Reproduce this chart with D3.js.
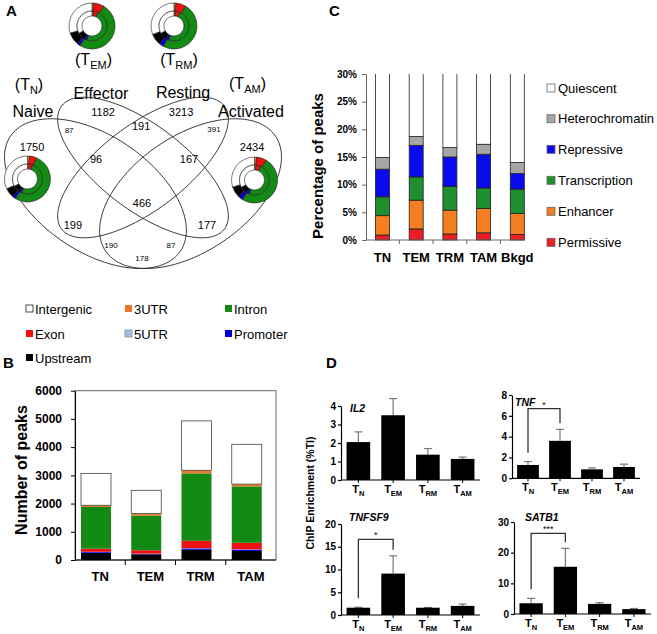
<!DOCTYPE html>
<html>
<head>
<meta charset="utf-8">
<script src="https://cdn.jsdelivr.net/npm/d3@7"></script>
<style>
  body { margin: 0; background: #fff; }
  text { font-family: Arial, "Liberation Sans", sans-serif; }
</style>
</head>
<body>
<div id="viz-container"></div>
<script>
// ---------- data ----------
// A: venn counts (region order matches vennSpots below)
let vennNames = ["Naive", "Effector", "Resting", "Activated"];
let vennTags = [["N"], ["EM"], ["RM"], ["AM"]];
let vennCounts = [1750, 1182, 3213, 2434, 87, 191, 391, 96, 167, 466, 199, 177, 190, 87, 178];

// A: donut rings, clockwise from 12 o'clock
let ringKeys = ["3UTR", "Exon", "Intron", "5UTR", "Promoter", "Upstream", "Intergenic"];
let tnOuter  = [1.5, 5, 52, 0.5, 2, 7, 32];
let tnInner  = [1.5, 4, 51, 0.5, 2, 8, 33];
let temOuter = [1.5, 7, 50, 0.5, 2, 9, 30];
let temInner = [1.5, 5, 49, 0.5, 2, 9, 33];
let trmOuter = [1.5, 7, 49, 0.5, 3, 8, 31];
let trmInner = [1.5, 5, 49, 0.5, 3, 8, 33];
let tamOuter = [1.5, 7, 50, 0.5, 3, 8, 30];
let tamInner = [1.5, 5, 49, 0.5, 3, 8, 33];

// B: peak annotation counts
let peakCells = ["TN", "TEM", "TRM", "TAM"];
let upstream   = [250, 200, 360, 320];
let promoter   = [30, 20, 50, 50];
let utr5       = [10, 5, 10, 10];
let exon       = [110, 120, 260, 230];
let intron     = [1480, 1230, 2390, 2000];
let utr3       = [60, 70, 110, 80];
let intergenic = [1130, 825, 1750, 1410];
let peakTicks = [0, 1000, 2000, 3000, 4000, 5000, 6000];

// C: chromatin states (% of peaks)
let stateCells = ["TN", "TEM", "TRM", "TAM", "Bkgd"];
let permissive      = [0.9, 2.0, 1.1, 1.3, 1.0];
let enhancer        = [3.5, 5.2, 4.3, 4.4, 3.8];
let transcription   = [3.4, 4.2, 4.3, 3.7, 4.4];
let repressive      = [5.0, 5.7, 5.3, 6.1, 2.8];
let heterochromatin = [2.1, 1.6, 1.7, 1.8, 2.0];
let quiescent       = [85.1, 81.3, 83.3, 82.7, 86.0];
let stateTicks = [0, 5, 10, 15, 20, 25, 30];

// D: ChIP enrichment
let genes = ["IL2", "TNF", "TNFSF9", "SATB1"];
let tSubs = ["N", "EM", "RM", "AM"];
let il2Mean = [2.05, 3.5, 1.37, 1.14],  il2Sem = [0.55, 0.9, 0.33, 0.1];
let tnfMean = [1.28, 3.6, 0.86, 1.09],  tnfSem = [0.32, 1.1, 0.14, 0.27];
let tnfsf9Mean = [1.6, 9.1, 1.6, 2.0],  tnfsf9Sem = [0.1, 3.9, 0.05, 0.4];
let satb1Mean = [3.5, 15.4, 3.3, 1.6],  satb1Sem = [1.6, 6.0, 0.4, 0.2];
let dMax = [4, 8, 20, 30];
let dStep = [1, 2, 5, 10];
let sigLevel = [null, 6.7, 16.6, 26.3];
let sigText = ["", "*", "*", "***"];

// ---------- colours ----------
let annColor = {"Upstream": "#000000", "Promoter": "#0000dd", "5UTR": "#a4bfe0", "Exon": "#ee1111",
  "Intron": "#138a13", "3UTR": "#e8772a", "Intergenic": "#ffffff"};
let stateKeys = ["Permissive", "Enhancer", "Transcription", "Repressive", "Heterochromatin", "Quiescent"];
let stateColor = ["#ee1c24", "#f57f20", "#1f8f2f", "#0a0aee", "#a6a6a6", "#ffffff"];
let fontFam = "Arial, 'Liberation Sans', sans-serif";

let viz = d3.select("#viz-container")
  .append("svg")
    .attr("width", 657)
    .attr("height", 634)
    .style("background", "#fff")
;

function panelLetter(t, x, y) {
  viz.append("text").attr("x", x).attr("y", y).attr("font-size", 15).attr("font-weight", "bold").text(t);
}
panelLetter("A", 6, 16);
panelLetter("B", 3, 368);
panelLetter("C", 329, 16);
panelLetter("D", 326, 368);

// ================= A =================
// venn drawn in a unit square, mapped to pixels
let sx = d3.scaleLinear().domain([0, 1]).range([-15.5, 301.5]);
let sy = d3.scaleLinear().domain([0, 1]).range([316.3, 55.3]);
let vennEllipses = [
  {cx: 0.35, cy: 0.47, a: 0.35, b: 0.205, rot: 135},
  {cx: 0.50, cy: 0.57, a: 0.35, b: 0.15, rot: 135},
  {cx: 0.50, cy: 0.57, a: 0.35, b: 0.15, rot: 45},
  {cx: 0.65, cy: 0.47, a: 0.35, b: 0.205, rot: 45}
];
let ellLine = d3.line().x(d => sx(d[0])).y(d => sy(d[1])).curve(d3.curveLinearClosed);
vennEllipses.forEach(e => {
  let th = e.rot * Math.PI / 180;
  let pts = d3.range(0, 2 * Math.PI, Math.PI / 90).map(t => [
    e.cx + e.a * Math.cos(t) * Math.cos(th) - e.b * Math.sin(t) * Math.sin(th),
    e.cy + e.a * Math.cos(t) * Math.sin(th) + e.b * Math.sin(t) * Math.cos(th)
  ]);
  viz.append("path").attr("d", ellLine(pts)).attr("fill", "none").attr("stroke", "#222").attr("stroke-width", 0.9);
});

let vennSpots = [[0.150, 0.649], [0.374, 0.783], [0.620, 0.783], [0.844, 0.649], [0.267, 0.710],
  [0.494, 0.729], [0.724, 0.714], [0.352, 0.603], [0.645, 0.603], [0.497, 0.434], [0.279, 0.350],
  [0.702, 0.350], [0.399, 0.273], [0.588, 0.273], [0.497, 0.223]];
let smallSpot = [false, false, false, false, true, false, true, false, false, false, false, false, true, true, true];
viz.selectAll(".vcount").data(vennCounts).enter().append("text")
  .attr("x", (d, i) => sx(vennSpots[i][0]))
  .attr("y", (d, i) => sy(vennSpots[i][1]))
  .attr("text-anchor", "middle").attr("dominant-baseline", "central")
  .attr("font-size", (d, i) => smallSpot[i] ? 8 : 11)
  .text(d => d);

// set names and cell tags
let nameSpots = [[33, 117], [101, 99], [183, 98], [251, 117]];
let tagSpots = [[29, 90], [93.5, 65], [179, 65], [247.5, 89]];
vennNames.forEach((n, i) => {
  viz.append("text").attr("x", nameSpots[i][0]).attr("y", nameSpots[i][1])
    .attr("text-anchor", "middle").attr("font-size", 16).text(n);
  let t = viz.append("text").attr("x", tagSpots[i][0]).attr("y", tagSpots[i][1])
    .attr("text-anchor", "middle").attr("font-size", 16);
  t.append("tspan").text("(T");
  t.append("tspan").attr("font-size", 11).attr("dy", 4).text(vennTags[i][0]);
  t.append("tspan").attr("dy", -4).text(")");
});

// donuts
let pie = d3.pie().sort(null).value(d => d);
let outerArc = d3.arc().innerRadius(15).outerRadius(23);
let innerArc = d3.arc().innerRadius(10).outerRadius(15);
let donutSpots = [[27.5, 179], [92, 26], [174, 26], [254.5, 180]];
let rings = [[tnOuter, tnInner], [temOuter, temInner], [trmOuter, trmInner], [tamOuter, tamInner]];
rings.forEach((r, i) => {
  let g = viz.append("g").attr("transform", `translate(${donutSpots[i][0]},${donutSpots[i][1]})`);
  g.append("circle").attr("r", 23).attr("fill", "#fff");
  g.selectAll(".o").data(pie(r[0])).enter().append("path")
    .attr("d", outerArc).attr("fill", (d, j) => annColor[ringKeys[j]]).attr("stroke", "#222").attr("stroke-width", 0.6);
  g.selectAll(".n").data(pie(r[1])).enter().append("path")
    .attr("d", innerArc).attr("fill", (d, j) => annColor[ringKeys[j]]).attr("stroke", "#222").attr("stroke-width", 0.6);
});

// annotation legend
let legKeys = ["Intergenic", "3UTR", "Intron", "Exon", "5UTR", "Promoter", "Upstream"];
let legX = [26, 125, 225];
let legY = [309, 334, 358];
legKeys.forEach((k, i) => {
  let x = legX[i % 3], y = legY[Math.floor(i / 3)];
  viz.append("rect").attr("x", x).attr("y", y - 4).attr("width", 7).attr("height", 7)
    .attr("fill", annColor[k]).attr("stroke", k === "Intergenic" ? "#222" : (k === "5UTR" ? "#7a8fae" : "none")).attr("stroke-width", 0.8);
  viz.append("text").attr("x", x + 9).attr("y", y).attr("dominant-baseline", "central")
    .attr("font-size", 13).text(k);
});

// ================= B =================
let peakRows = peakCells.map((c, i) => ({cell: c, Upstream: upstream[i], Promoter: promoter[i], "5UTR": utr5[i],
  Exon: exon[i], Intron: intron[i], "3UTR": utr3[i], Intergenic: intergenic[i]}));
let peakKeys = ["Upstream", "Promoter", "5UTR", "Exon", "Intron", "3UTR", "Intergenic"];
let peakStack = d3.stack().keys(peakKeys)(peakRows);
let xB = d3.scaleBand().domain(peakCells).range([75, 276]);
let yB = d3.scaleLinear().domain([0, 6000]).range([560, 390.7]);

viz.append("rect").attr("x", 75).attr("y", yB(6000)).attr("width", 201).attr("height", yB(0) - yB(6000))
  .attr("fill", "none").attr("stroke", "#666").attr("stroke-width", 1);
peakStack.forEach(s => {
  viz.selectAll(null).data(s).enter().append("rect")
    .attr("x", d => xB(d.data.cell) + 6)
    .attr("width", 30)
    .attr("y", d => yB(d[1]))
    .attr("height", d => yB(d[0]) - yB(d[1]))
    .attr("fill", annColor[s.key])
    .attr("stroke", s.key === "Intergenic" ? "#444" : "none").attr("stroke-width", 0.8);
});
let axB = viz.append("g").attr("transform", "translate(75,0)")
  .call(d3.axisLeft(yB).tickValues(peakTicks).tickSize(4).tickSizeOuter(0).tickPadding(9).tickFormat(d3.format("d")));
axB.selectAll("text").attr("font-size", 12).attr("font-weight", "bold").attr("font-family", fontFam);
axB.select(".domain").attr("stroke", "#000");
viz.append("line").attr("x1", 75).attr("x2", 276).attr("y1", 560).attr("y2", 560).attr("stroke", "#000");
peakCells.forEach((c, i) => {
  if (i > 0) viz.append("line").attr("x1", xB(c)).attr("x2", xB(c)).attr("y1", 560).attr("y2", 565).attr("stroke", "#000");
  viz.append("text").attr("x", xB(c) + xB.bandwidth() / 2).attr("y", 581)
    .attr("text-anchor", "middle").attr("font-size", 13).attr("font-weight", "bold").text(c);
});
viz.append("text").attr("transform", "translate(27,470) rotate(-90)")
  .attr("text-anchor", "middle").attr("font-size", 16).attr("font-weight", "bold").text("Number of peaks");

// ================= C =================
let stateRows = stateCells.map((c, i) => ({cell: c, Permissive: permissive[i], Enhancer: enhancer[i],
  Transcription: transcription[i], Repressive: repressive[i], Heterochromatin: heterochromatin[i], Quiescent: quiescent[i]}));
let stateStack = d3.stack().keys(stateKeys)(stateRows);
let xC = d3.scalePoint().domain(stateCells).range([382.5, 517.3]);
let yC = d3.scaleLinear().domain([0, 30]).range([240, 74]);

viz.append("clipPath").attr("id", "clipC").append("rect")
  .attr("x", 360).attr("y", yC(30)).attr("width", 180).attr("height", yC(0) - yC(30) + 2);
let barsC = viz.append("g").attr("clip-path", "url(#clipC)");
stateStack.forEach((s, k) => {
  barsC.selectAll(null).data(s).enter().append("rect")
    .attr("x", d => xC(d.data.cell) - 7)
    .attr("width", 14)
    .attr("y", d => yC(d[1]))
    .attr("height", d => yC(d[0]) - yC(d[1]))
    .attr("fill", stateColor[k])
    .attr("stroke", "#222").attr("stroke-width", 0.8);
});
let axC = viz.append("g").attr("transform", "translate(366,0)")
  .call(d3.axisLeft(yC).tickValues(stateTicks).tickSize(4).tickSizeOuter(0).tickPadding(5).tickFormat(d => d + "%"));
axC.selectAll("text").attr("font-size", 10).attr("font-weight", "bold").attr("font-family", fontFam);
axC.selectAll("line, .domain").attr("stroke", "#666");
viz.append("line").attr("x1", 366).attr("x2", 525).attr("y1", 240).attr("y2", 240).attr("stroke", "#666");
stateCells.forEach((c, i) => {
  let bx = xC(c) + xC.step() / 2;
  if (i < stateCells.length - 1) viz.append("line").attr("x1", bx).attr("x2", bx).attr("y1", 240).attr("y2", 244).attr("stroke", "#666");
  viz.append("text").attr("x", xC(c)).attr("y", 262)
    .attr("text-anchor", "middle").attr("font-size", 13).attr("font-weight", "bold").text(c);
});
viz.append("text").attr("transform", "translate(323,166) rotate(-90)")
  .attr("text-anchor", "middle").attr("font-size", 15).attr("font-weight", "bold").text("Percentage of peaks");

// legend C (top to bottom = reverse stack)
let legCY = [88, 118.7, 149.3, 180.3, 211.3, 242.3];
stateKeys.slice().reverse().forEach((k, i) => {
  let ci = stateKeys.length - 1 - i;
  viz.append("rect").attr("x", 547).attr("y", legCY[i] - 4).attr("width", 8).attr("height", 8)
    .attr("fill", stateColor[ci]).attr("stroke", "#666").attr("stroke-width", 0.8);
  viz.append("text").attr("x", 558).attr("y", legCY[i]).attr("dominant-baseline", "central")
    .attr("font-size", 13).text(k);
});

// ================= D =================
let dMean = [il2Mean, tnfMean, tnfsf9Mean, satb1Mean];
let dSem = [il2Sem, tnfSem, tnfsf9Sem, satb1Sem];
let dBox = [
  {x0: 341, x1: 480, y0: 480, y1: 406, tx: 350, ty: 412},
  {x0: 512, x1: 640, y0: 478.3, y1: 395, tx: 515, ty: 406},
  {x0: 341, x1: 480, y0: 615, y1: 524, tx: 349, ty: 521},
  {x0: 514, x1: 651, y0: 614, y1: 522, tx: 525, ty: 521}
];
genes.forEach((g, gi) => {
  let b = dBox[gi];
  let x = d3.scaleBand().domain(tSubs).range([b.x0, b.x1]).paddingInner(0.32).paddingOuter(0.16);
  let y = d3.scaleLinear().domain([0, dMax[gi]]).range([b.y0, b.y1]);
  let grp = viz.append("g");

  // error bars (upper only)
  tSubs.forEach((t, i) => {
    let cx = x(t) + x.bandwidth() / 2;
    let top = dMean[gi][i] + dSem[gi][i];
    grp.append("line").attr("x1", cx).attr("x2", cx).attr("y1", y(dMean[gi][i])).attr("y2", y(top))
      .attr("stroke", "#777").attr("stroke-width", 1.2);
    grp.append("line").attr("x1", cx - 4).attr("x2", cx + 4).attr("y1", y(top)).attr("y2", y(top))
      .attr("stroke", "#777").attr("stroke-width", 1.2);
  });
  grp.selectAll(null).data(dMean[gi]).enter().append("rect")
    .attr("x", (d, i) => x(tSubs[i]))
    .attr("width", x.bandwidth())
    .attr("y", d => y(d))
    .attr("height", d => y(0) - y(d))
    .attr("fill", "#000");

  let ay = grp.append("g").attr("transform", `translate(${b.x0},0)`)
    .call(d3.axisLeft(y).tickValues(d3.range(0, dMax[gi] + 0.001, dStep[gi])).tickSize(3).tickSizeOuter(0)
      .tickPadding(2).tickFormat(d3.format("d")));
  ay.selectAll("text").attr("font-size", 10).attr("font-weight", "bold").attr("font-family", fontFam);
  ay.selectAll("line, .domain").attr("stroke", "#000").attr("stroke-width", 1.2);
  grp.append("line").attr("x1", b.x0).attr("x2", b.x1).attr("y1", b.y0).attr("y2", b.y0).attr("stroke", "#000").attr("stroke-width", 1.2);

  tSubs.forEach(t => {
    let cx = x(t) + x.bandwidth() / 2;
    grp.append("line").attr("x1", cx).attr("x2", cx).attr("y1", b.y0).attr("y2", b.y0 + 3).attr("stroke", "#000");
    let lab = grp.append("text").attr("x", cx).attr("y", b.y0 + 13).attr("text-anchor", "middle")
      .attr("font-size", 11).attr("font-weight", "bold");
    lab.append("tspan").text("T");
    lab.append("tspan").attr("font-size", 7.5).attr("dy", 2.5).text(t);
  });

  grp.append("text").attr("x", b.tx).attr("y", b.ty).attr("font-size", 10.5)
    .attr("font-weight", "bold").attr("font-style", "italic").text(g);

  // significance bracket TN vs TEM
  if (sigLevel[gi] !== null) {
    let xa = x(tSubs[0]) + x.bandwidth() / 2, xb = x(tSubs[1]) + x.bandwidth() / 2;
    let ya = y(dMean[gi][0] + dSem[gi][0]) - 9, yb = y(dMean[gi][1] + dSem[gi][1]) - 6, yt = y(sigLevel[gi]);
    grp.append("path").attr("d", `M${xa},${ya}V${yt}H${xb}V${yb}`)
      .attr("fill", "none").attr("stroke", "#333").attr("stroke-width", 1.3);
    grp.append("text").attr("x", (xa + xb) / 2).attr("y", yt - 1).attr("text-anchor", "middle")
      .attr("font-size", 9).text(sigText[gi]);
  }
});
viz.append("text").attr("transform", "translate(314,493) rotate(-90)")
  .attr("text-anchor", "middle").attr("font-size", 10.5).attr("font-weight", "bold").text("ChIP Enrichment (%TI)");
</script>
</body>
</html>
